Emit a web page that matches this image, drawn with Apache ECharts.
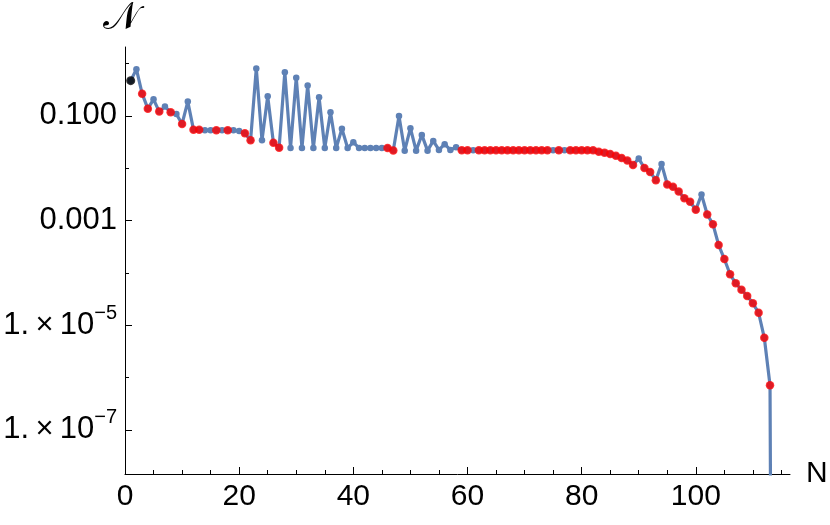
<!DOCTYPE html>
<html>
<head>
<meta charset="utf-8">
<script src="https://cdn.jsdelivr.net/npm/echarts@6/dist/echarts.min.js"></script>
<style>
  html, body { margin: 0; padding: 0; background: #fff; }
  #chart { width: 830px; height: 525px; }
</style>
</head>
<body>
<div id="chart"></div>
<script>
// values for N = 1 .. 114 (the last one is ~0, it falls off the log axis)
const normValues = [
  0.473, 0.782, 0.267, 0.138, 0.208, 0.121, 0.151, 0.118, 0.109, 0.0703,
  0.188, 0.0547, 0.0547, 0.0533, 0.0533, 0.0533, 0.0533, 0.0533, 0.0533, 0.0516,
  0.0467, 0.0343, 0.809, 0.0343, 0.238, 0.0308, 0.0248, 0.685, 0.0244, 0.539,
  0.0244, 0.380, 0.0244, 0.228, 0.0244, 0.118, 0.0244, 0.0572, 0.0244, 0.0314,
  0.0244, 0.0244, 0.0244, 0.0244, 0.0244, 0.0244, 0.0219, 0.100, 0.0217, 0.0585,
  0.0217, 0.0434, 0.0217, 0.0333, 0.0224, 0.0288, 0.0224, 0.0252, 0.0220, 0.0220,
  0.0220, 0.0220, 0.0220, 0.0220, 0.0220, 0.0220, 0.0220, 0.0220, 0.0220, 0.0220,
  0.0220, 0.0220, 0.0220, 0.0220, 0.0220, 0.0220, 0.0220, 0.0220, 0.0220, 0.0220,
  0.0220, 0.0220, 0.0207, 0.0199, 0.0188, 0.0174, 0.0157, 0.0140, 0.0116, 0.0153,
  0.0101, 0.00850, 0.00590, 0.0121, 0.00490, 0.00444, 0.00360, 0.00268, 0.00229, 0.00161,
  0.00315, 0.00131, 0.000854, 0.000341, 0.000184, 0.0000940, 0.0000632, 0.0000477, 0.0000362, 0.0000262,
  0.0000173, 0.00000574, 7.1e-7, 1e-30
];
// which N get the red / black markers
const redN = [3, 4, 6, 8, 10, 12, 13, 16, 18, 21, 22, 26, 27, 46, 47, 59, 60,
  62, 63, 64, 65, 66, 67, 68, 69, 70, 71, 72, 73, 74, 76,
  78, 79, 80, 81, 82, 83, 84, 85, 86, 87, 88, 89, 91, 92, 93,
  95, 96, 97, 98, 99, 100, 102, 103, 104, 105, 106, 107, 108, 109, 110, 111, 112, 113];
const blackN = [1];

const xMajorTicks = [0, 20, 40, 60, 80, 100];
const xMinorTicks = [5, 10, 15, 25, 30, 35, 45, 50, 55, 65, 70, 75, 85, 90, 95, 105, 110, 115];
const yMajorTicks = [1e-7, 1e-5, 1e-3, 0.1];
const yMinorTicks = [1e-6, 1e-4, 1e-2, 1];

const FONT = 'Liberation Sans';
const xMin = 0, xMax = 116.5;
const yMin = 1.43e-8, yMax = 2.08;

const linePts = normValues.map((v, i) => [i + 1, v]);
const redPts = redN.map(n => [n, normValues[n - 1]]);
const blackPts = blackN.map(n => [n, normValues[n - 1]]);

function yLabel(v) {
  const e = Math.round(Math.log10(v));
  if (e >= -3) return '{m|' + v.toFixed(3) + '}';
  // thin spaces around the times sign, like the original
  return '{m|1.\u2009×\u200910}{s|−' + (-e) + '}';
}

const chart = echarts.init(document.getElementById('chart'));
chart.setOption({
  animation: false,
  grid: { left: 125, right: 40, top: 47, bottom: 51, containLabel: false, outerBoundsMode: 'none' },
  xAxis: [
    {
      type: 'value', position: 'bottom', min: xMin, max: xMax,
      splitLine: { show: false },
      axisLine: { lineStyle: { color: '#000', width: 1 } },
      axisTick: { inside: true, length: 7, customValues: xMajorTicks, lineStyle: { color: '#000' } },
      axisLabel: { customValues: xMajorTicks, color: '#000', fontFamily: FONT, fontSize: 30, margin: 8 },
      name: 'N', nameLocation: 'end', nameGap: 16,
      nameTextStyle: { color: '#000', fontFamily: FONT, fontSize: 30, verticalAlign: 'middle' }
    },
    {
      type: 'value', position: 'bottom', min: xMin, max: xMax,
      splitLine: { show: false },
      axisLine: { show: false },
      axisTick: { inside: true, length: 4, customValues: xMinorTicks, lineStyle: { color: '#000' } },
      axisLabel: { show: false }
    }
  ],
  yAxis: [
    {
      type: 'log', logBase: 10, position: 'left', min: yMin, max: yMax,
      splitLine: { show: false },
      axisLine: { show: true, lineStyle: { color: '#000', width: 1 } },
      axisTick: { inside: true, length: 7, customValues: yMajorTicks, lineStyle: { color: '#000' } },
      axisLabel: {
        customValues: yMajorTicks, margin: 8, formatter: yLabel,
        rich: {
          m: { fontFamily: FONT, fontSize: 31, color: '#000', lineHeight: 44 },
          s: { fontFamily: FONT, fontSize: 20, color: '#000', lineHeight: 22, verticalAlign: 'top' }
        }
      },
      name: '𝒩', nameLocation: 'end', nameGap: 9,
      nameTextStyle: { color: '#000', fontFamily: 'DejaVu Sans', fontSize: 38, align: 'center', padding: [0, 8, 0, 0] }
    },
    {
      type: 'log', logBase: 10, position: 'left', min: yMin, max: yMax,
      splitLine: { show: false },
      axisLine: { show: false },
      axisTick: { inside: true, length: 4, customValues: yMinorTicks, lineStyle: { color: '#000' } },
      axisLabel: { show: false }
    }
  ],
  series: [
    {
      type: 'line', data: linePts, xAxisIndex: 0, yAxisIndex: 0,
      symbol: 'circle', symbolSize: 6.5, showSymbol: true,
      itemStyle: { color: '#5E81B5' },
      lineStyle: { color: '#5E81B5', width: 3.2 },
      clip: true, z: 2
    },
    {
      type: 'scatter', data: redPts, xAxisIndex: 0, yAxisIndex: 0,
      symbol: 'circle', symbolSize: 8.5,
      itemStyle: { color: '#FF0000' }, z: 3
    },
    {
      type: 'scatter', data: blackPts, xAxisIndex: 0, yAxisIndex: 0,
      symbol: 'circle', symbolSize: 9,
      itemStyle: { color: '#000' }, z: 4
    }
  ]
});
</script>
</body>
</html>
